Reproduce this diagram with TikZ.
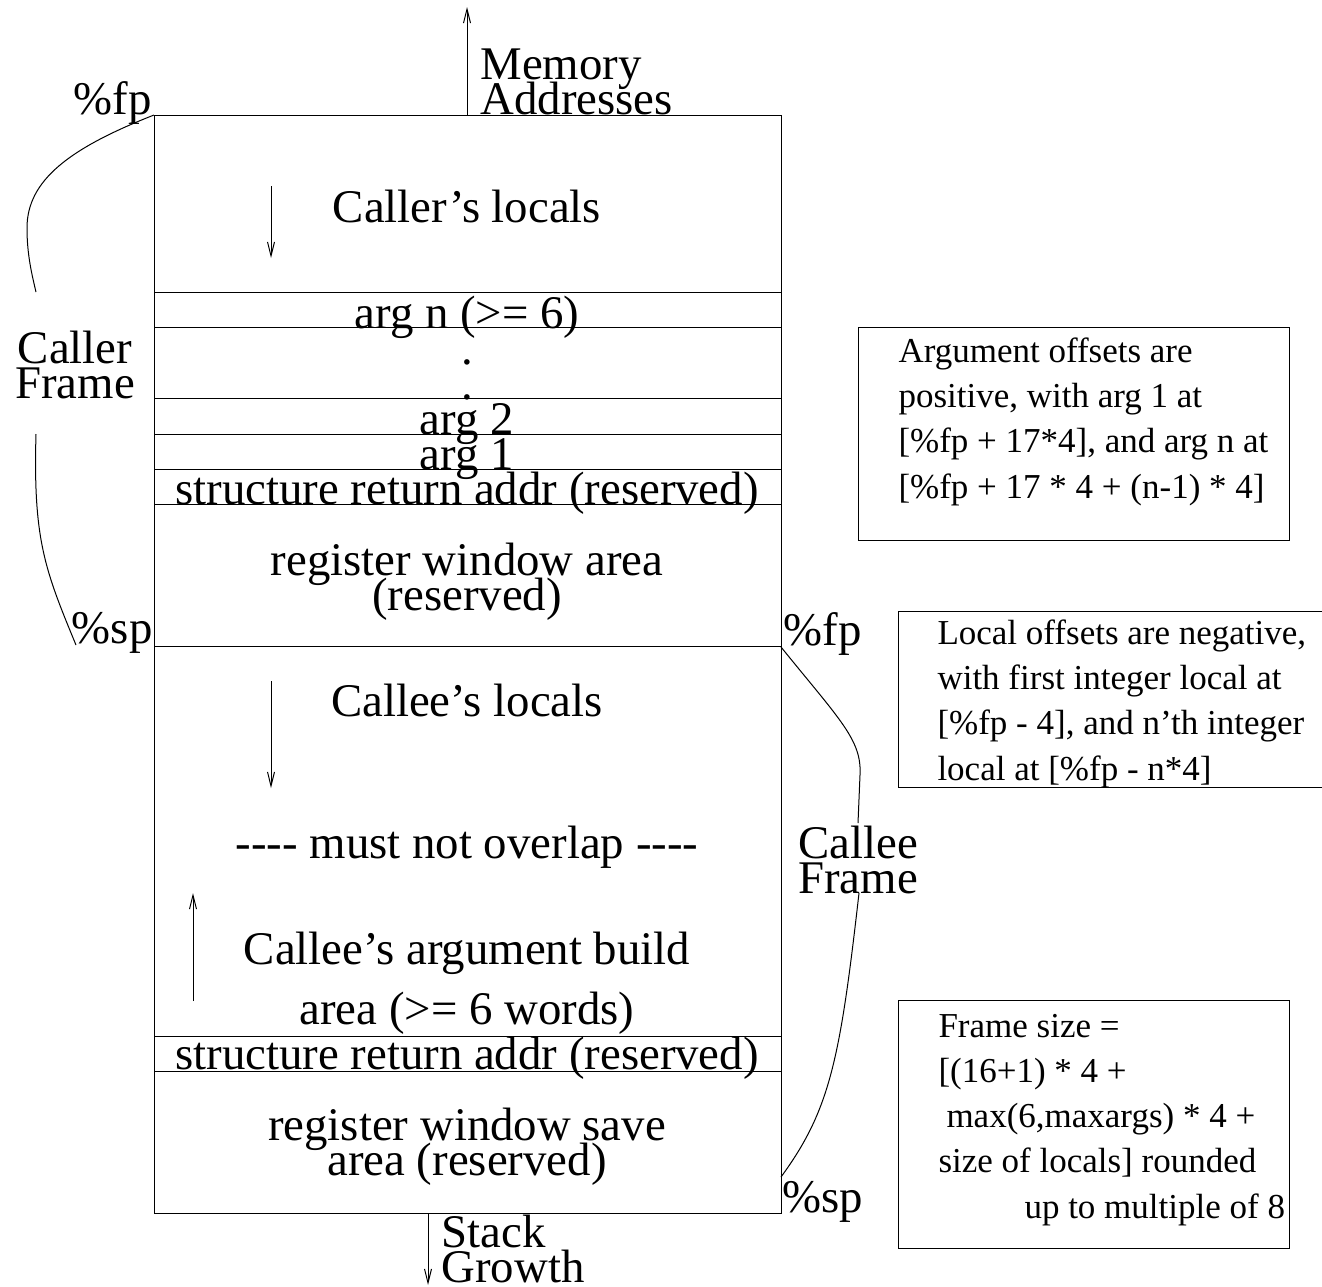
\documentclass[tikz,border=0pt]{standalone}
\usepackage{fontspec}
\setmainfont{Liberation Serif}
\usetikzlibrary{arrows.meta}

\newcommand\stackfont{\fontsize{23.4}{17.5}\selectfont\lineskiplimit=-20pt\relax}
\newcommand\notefont{\fontsize{17.5}{22.6}\selectfont}

\tikzset{
    big/.style={font=\stackfont, inner sep=0pt},
    note/.style={font=\notefont, inner sep=0pt, align=left, anchor=base west},
    growarrow/.style={-{Straight Barb[length=7pt,width=3.5pt]}},
}

\begin{document}
\begin{tikzpicture}[x=0.5pt, y=-0.5pt, line width=0.5pt]
    \useasboundingbox (0,0) rectangle (1322,1286);

    % stack frames
    \draw (154,115) rectangle (781,1213);
    \foreach \y in {292,327,398,434,469,504,646,1036,1071}
        \draw (154,\y) -- (781,\y);

    \coordinate (callerfp) at (154,115);
    \coordinate (callersp) at (76,645);
    \coordinate (calleefp) at (781,647);
    \coordinate (calleesp) at (781,1177);
    \coordinate (callerup) at (36,292);
    \coordinate (callerdown) at (36,434);
    \coordinate (calleeup) at (858,823);
    \coordinate (calleedown) at (859,893);

    % multi-line nodes sit on their last line
    \node[big, anchor=base] (callerlocals) at (467,222) {Caller's locals};
    \node[big, anchor=base] (argn) at (467,328) {arg n (>= 6)};
    \node[big, anchor=base] (dota) at (467,364) {.};
    \node[big, anchor=base] (dotb) at (467,399) {.};
    \node[big, anchor=base] (argtwo) at (467,434) {arg 2};
    \node[big, anchor=base] (argone) at (467,469) {arg 1};
    \node[big, anchor=base] (structa) at (467,504) {structure return addr (reserved)};
    \node[big, anchor=base, align=center] (regarea) at (467,610) {register window area\\(reserved)};
    \node[big, anchor=base] (calleelocals) at (467,716) {Callee's locals};
    \node[big, anchor=base] (overlap) at (467,858) {-{}-{}-{}- must not overlap -{}-{}-{}-};
    \node[big, anchor=base] (buildarea) at (467,964) {Callee's argument build};
    \node[big, anchor=base] (buildsize) at (467,1024) {area (>= 6 words)};
    \node[big, anchor=base] (structb) at (467,1069) {structure return addr (reserved)};
    \node[big, anchor=base, align=center] (savearea) at (467,1175) {register window save\\area (reserved)};

    % growth arrows
    \coordinate (callerfrom) at (271,186);
    \coordinate (callerto) at (271,258);
    \coordinate (calleefrom) at (271,681);
    \coordinate (calleeto) at (271,788);
    \coordinate (buildfrom) at (193,1001);
    \coordinate (buildto) at (193,893);
    \draw[growarrow] (callerfrom) -- (callerto);
    \draw[growarrow] (calleefrom) -- (calleeto);
    \draw[growarrow] (buildfrom) -- (buildto);

    \coordinate (membase) at (467,115);
    \coordinate (memtip) at (467,7);
    \coordinate (stackbase) at (428,1213);
    \coordinate (stacktip) at (428,1285);
    \draw[growarrow] (membase) -- (memtip);
    \draw[growarrow] (stackbase) -- (stacktip);
    \node[big, anchor=base west, align=left] (memory) at (480,114) {Memory\\Addresses};
    \node[big, anchor=base west, align=left] (growth) at (441,1282) {Stack\\Growth};

    % frame labels
    \node[big, anchor=base east] (fpleft) at (152,114) {\%fp};
    \node[big, anchor=base east] (spleft) at (153,643) {\%sp};
    \node[big, anchor=base west] (fpright) at (783,645) {\%fp};
    \node[big, anchor=base west] (spright) at (782,1212) {\%sp};
    \node[big, anchor=base, align=center] (callerframe) at (75,398) {Caller\\Frame};
    \node[big, anchor=base, align=center] (calleeframe) at (858,893) {Callee\\Frame};

    \draw (callerfp) .. controls (70,148) and (27,180) .. (27,228)
        .. controls (27,255) and (32,275) .. (callerup);
    \draw (callerdown) .. controls (33,540) and (45,570) .. (callersp);
    \draw (calleefp) .. controls (840,720) and (862,740) .. (860,775) -- (calleeup);
    \draw (calleedown) .. controls (840,1060) and (830,1110) .. (calleesp);

    % notes
    \draw (858,327) rectangle (1289,540);
    \node[note] (argnote) at (898,498) {Argument offsets are\\positive, with arg 1 at\\{}[\%fp + 17*4], and arg n at\\{}[\%fp + 17 * 4 + (n-1) * 4]};
    \draw (898,611) rectangle (1326,787);
    \node[note] (localnote) at (937,780) {Local offsets are negative,\\with first integer local at\\{}[\%fp - 4], and n'th integer\\local at [\%fp - n*4]};
    \draw (898,1000) rectangle (1289,1248);
    \node[note] (sizenote) at (938,1218) {Frame size =\\{}[(16+1) * 4 +\\\hspace*{4pt}max(6,maxargs) * 4 +\\size of locals] rounded\\\hspace*{43pt}up to multiple of 8};
\end{tikzpicture}
\end{document}
